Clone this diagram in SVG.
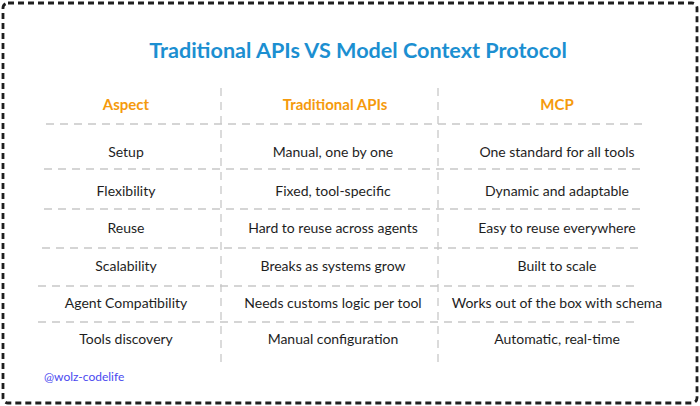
<svg xmlns="http://www.w3.org/2000/svg" width="700" height="406" viewBox="0 0 700 406">
<style>
text{font-family:"Comic Sans MS","Lato","Noto Sans",sans-serif;text-anchor:middle}
.title{font-size:21.6px;font-weight:bold;fill:#1c8fd1}
.head{font-size:15px;font-weight:bold;fill:#f59a0c}
.cell{font-size:14px;fill:#1e1e1e}
.sig{font-size:12px;fill:#4a4af0;text-anchor:start}
.grid line{stroke:#c8c8c8;stroke-width:1.3;stroke-dasharray:8 6}
</style>
<rect x="3" y="3" width="694" height="400" rx="5" fill="#ffffff" stroke="#1e1e1e" stroke-width="2.8" stroke-dasharray="6 4"/>
<g id="title"><text class="title" x="358" y="58">Traditional APIs VS Model Context Protocol</text></g>
<g id="connectors" class="grid">
<line x1="221" y1="88" x2="221" y2="367"/>
<line x1="438" y1="88" x2="438" y2="367"/>
<line x1="46" y1="124" x2="646" y2="124"/>
<line x1="44" y1="169" x2="644" y2="169"/>
<line x1="44" y1="209" x2="642" y2="209"/>
<line x1="42" y1="248" x2="640" y2="248"/>
<line x1="38" y1="286" x2="638" y2="286"/>
<line x1="38" y1="322" x2="638" y2="322"/>
</g>
<g id="header">
<text class="head" x="126" y="110">Aspect</text>
<text class="head" x="335" y="110">Traditional APIs</text>
<text class="head" x="557" y="110">MCP</text>
</g>
<g id="row-setup">
<text class="cell" x="126" y="157">Setup</text>
<text class="cell" x="333" y="157">Manual, one by one</text>
<text class="cell" x="557" y="157">One standard for all tools</text>
</g>
<g id="row-flexibility">
<text class="cell" x="126" y="196">Flexibility</text>
<text class="cell" x="333" y="196">Fixed, tool-specific</text>
<text class="cell" x="557" y="196">Dynamic and adaptable</text>
</g>
<g id="row-reuse">
<text class="cell" x="126" y="233">Reuse</text>
<text class="cell" x="333" y="233">Hard to reuse across agents</text>
<text class="cell" x="557" y="233">Easy to reuse everywhere</text>
</g>
<g id="row-scalability">
<text class="cell" x="126" y="271">Scalability</text>
<text class="cell" x="333" y="271">Breaks as systems grow</text>
<text class="cell" x="557" y="271">Built to scale</text>
</g>
<g id="row-agent">
<text class="cell" x="126" y="308">Agent Compatibility</text>
<text class="cell" x="333" y="308">Needs customs logic per tool</text>
<text class="cell" x="557" y="308">Works out of the box with schema</text>
</g>
<g id="row-tools">
<text class="cell" x="126" y="344">Tools discovery</text>
<text class="cell" x="333" y="344">Manual configuration</text>
<text class="cell" x="557" y="344">Automatic, real-time</text>
</g>
<g id="signature"><text class="sig" x="44" y="381">@wolz-codelife</text></g>
</svg>
